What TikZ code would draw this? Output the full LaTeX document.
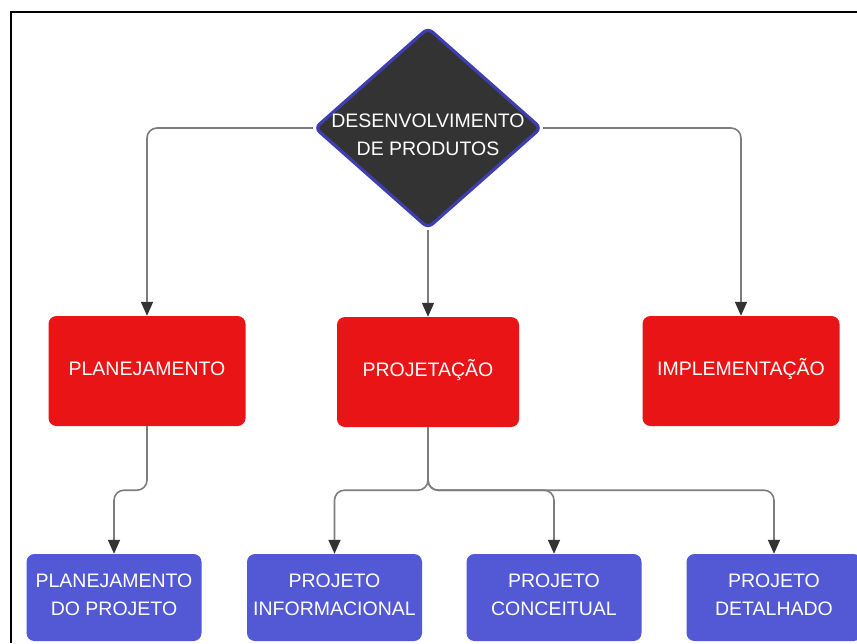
\documentclass[tikz,border=0pt]{standalone}
\usepackage{fontspec}
\setmainfont{Liberation Sans}
\usetikzlibrary{shapes.geometric,arrows.meta}
\definecolor{boxred}{RGB}{232,20,22}
\definecolor{boxblue}{RGB}{83,88,212}
\definecolor{darkfill}{RGB}{51,51,51}
\definecolor{dborder}{RGB}{62,62,176}
\definecolor{linegray}{RGB}{125,125,125}
\definecolor{tipdark}{RGB}{51,51,51}
\begin{document}
\begin{tikzpicture}[x=1pt,y=-1pt,
  lbl/.style={font=\fontsize{19.5}{28}\selectfont, text=white, align=center},
  redbox/.style={rectangle, rounded corners=8pt, fill=boxred, lbl, minimum height=110pt, inner sep=0pt, text height=16pt, text depth=8pt},
  bluebox/.style={rectangle, rounded corners=8pt, fill=boxblue, minimum width=175pt, minimum height=87pt, inner sep=0pt},
  bluetext/.style={lbl, yshift=2.5pt},
  diamondbox/.style={diamond, draw=dborder, line width=3.2pt, fill=darkfill, minimum width=227pt, minimum height=201pt, inner sep=0pt, rounded corners=6pt},
  conn/.style={draw=linegray, line width=1.6pt, rounded corners=10pt, -{Triangle[width=12pt,length=14pt,color=tipdark]}}
]
\useasboundingbox (0,0) rectangle (857,643);
\fill[white] (0,0) rectangle (857,643);
% frame
\draw[line width=1.7pt, black] (11,643) -- (11,12) -- (857,12);

% top diamond
\node[diamondbox, label={[lbl, yshift=-7pt]center:{DESENVOLVIMENTO\\DE PRODUTOS}}] (d) at (428,128) {};

% red boxes
\node[redbox, minimum width=197pt] (pl) at (147,371) {PLANEJAMENTO};
\node[redbox, minimum width=182pt] (pj) at (428,372) {PROJETAÇÃO};
\node[redbox, minimum width=197pt] (im) at (741,371) {IMPLEMENTAÇÃO};

% blue boxes
\node[bluebox, label={[bluetext]center:{PLANEJAMENTO\\DO PROJETO}}] (pdp) at (114,597.5) {};
\node[bluebox, label={[bluetext]center:{PROJETO\\INFORMACIONAL}}] (pi) at (334.5,597.5) {};
\node[bluebox, label={[bluetext]center:{PROJETO\\CONCEITUAL}}] (pc) at (554,597.5) {};
\node[bluebox, label={[bluetext]center:{PROJETO\\DETALHADO}}] (pd) at (774,597.5) {};

% connectors
\draw[conn] (d.west) -| (pl.north);
\draw[conn] (d.south) -- (pj.north);
\draw[conn] (d.east) -| (im.north);
\draw[conn] (pl.south) -- ++(0,64) -| (pdp.north);
\draw[conn] (pj.south) -- ++(0,63) -| (pi.north);
\draw[conn] (pj.south) -- ++(0,63) -| (pc.north);
\draw[conn] (pj.south) -- ++(0,63) -| (pd.north);
\end{tikzpicture}
\end{document}
